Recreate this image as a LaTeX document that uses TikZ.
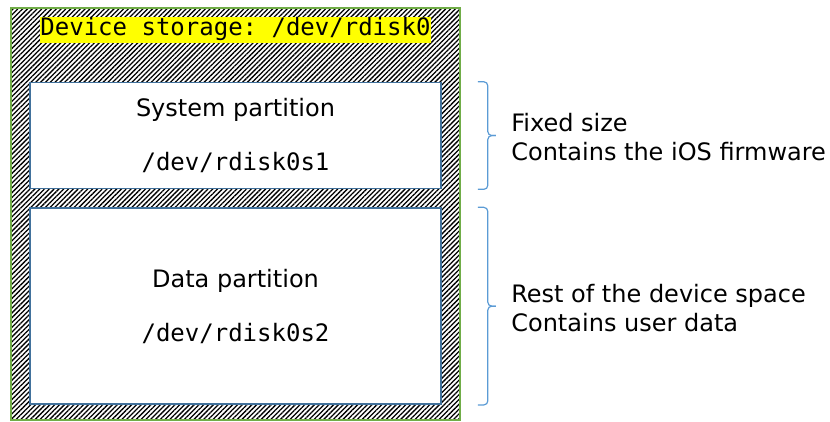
\documentclass[tikz,border=0pt]{standalone}
\usepackage{fontspec}
\setmainfont{DejaVu Sans}
\setmonofont{DejaVu Sans Mono}
\usepackage{tikz}
\usetikzlibrary{positioning,patterns.meta,calc}
\definecolor{diskGreen}{RGB}{112,173,71}
\definecolor{partBlue}{RGB}{65,113,156}
\definecolor{braceBlue}{RGB}{91,155,213}
\definecolor{labelYellow}{RGB}{255,255,0}

\begin{document}
\begin{tikzpicture}[x=1pt,y=1pt,
  partbox/.style={draw=partBlue, line width=1.6pt, fill=white, minimum width=411pt, align=center, font=\fontsize{24}{30}\selectfont},
  notetext/.style={anchor=west, align=left, font=\fontsize{24}{29}\selectfont},
  partbrace/.style={draw=braceBlue, line width=1.2pt, rounded corners=4pt}]
\useasboundingbox (0,0) rectangle (830,421);

% whole device
\node[draw=diskGreen, line width=1.2pt, pattern={Lines[angle=45,distance=3.4pt,line width=1.3pt]},
  minimum width=449pt, minimum height=412pt, inner sep=0pt] (disk) at (235.5,207) {};
\node[fill=labelYellow, inner sep=0pt, text height=19pt, text depth=7pt,
  font=\ttfamily\fontsize{24}{30}\selectfont, below=9pt of disk.north] (title) {Device storage: /dev/rdisk0};

% partitions
\node[partbox, minimum height=106pt, below=39pt of title] (sys) {System partition\\[24pt]\texttt{/dev/rdisk0s1}};
\node[partbox, minimum height=196pt, below=18pt of sys] (data) {Data partition\\[24pt]\texttt{/dev/rdisk0s2}};

% notes
\foreach \part/\corner in {sys/north east, sys/south east, data/north east, data/south east}
  \draw[partbrace] ([xshift=36pt]\part.\corner) -- ++(10,0) -- ($(\part.east)+(46,0)$) -- ($(\part.east)+(54,0)$);
\node[notetext] (fixed) at ([xshift=66pt,yshift=-2pt]sys.east) {Fixed size\\Contains the iOS firmware};
\node[notetext] (rest) at ([xshift=66pt,yshift=-2pt]data.east) {Rest of the device space\\Contains user data};
\end{tikzpicture}
\end{document}
